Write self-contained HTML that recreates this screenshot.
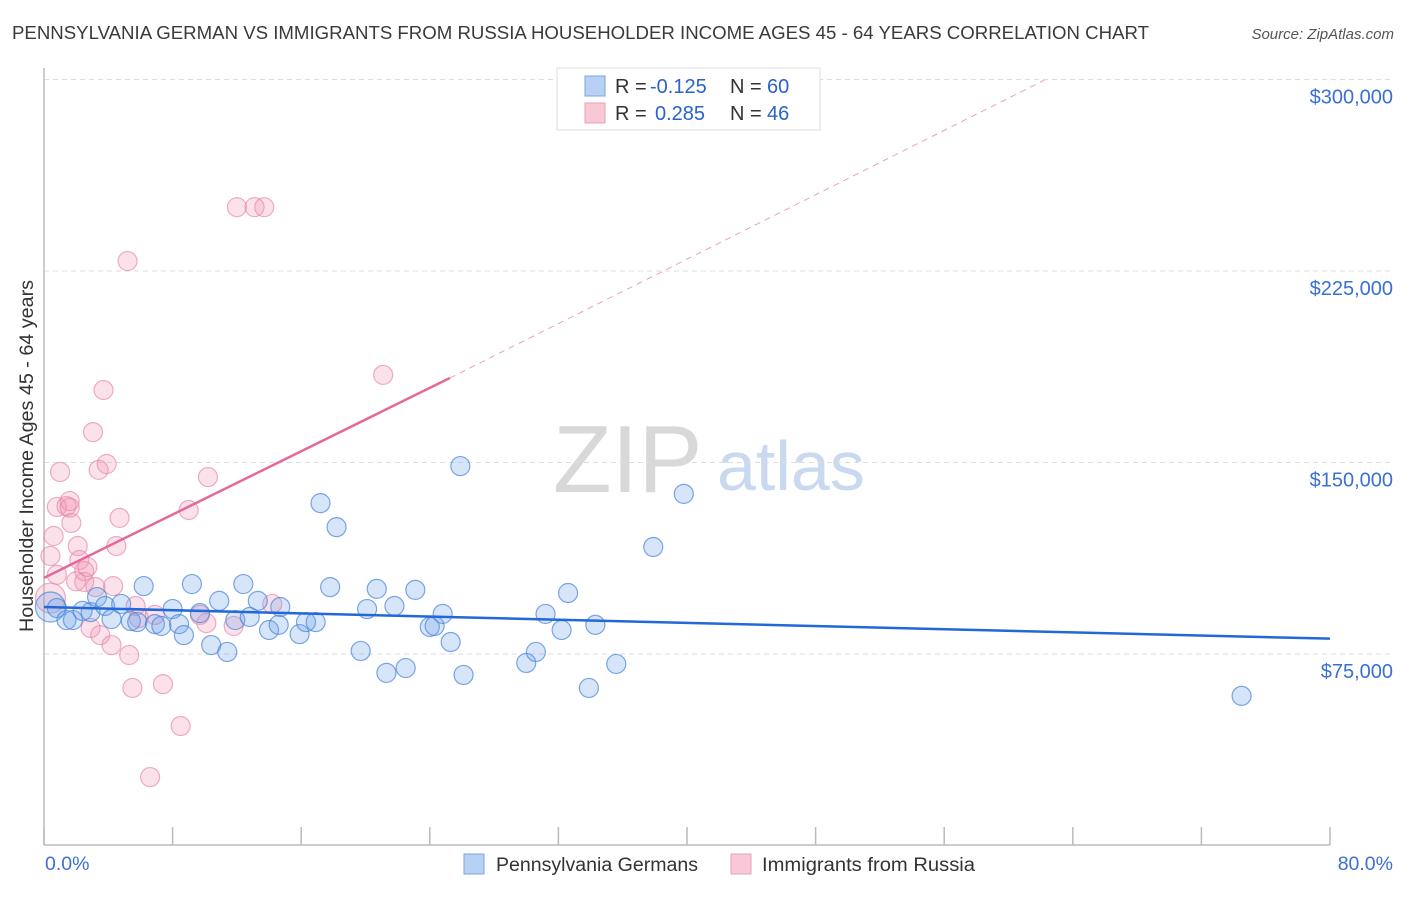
<!DOCTYPE html>
<html><head><meta charset="utf-8"><style>
body{margin:0;background:#fff;font-family:"Liberation Sans",sans-serif;}
svg text{font-family:"Liberation Sans",sans-serif;}
</style></head><body>
<svg id="chart" width="1406" height="892" xmlns="http://www.w3.org/2000/svg">
<text x="12" y="39" font-size="18" fill="#3a3a3a" textLength="1137" lengthAdjust="spacingAndGlyphs">PENNSYLVANIA GERMAN VS IMMIGRANTS FROM RUSSIA HOUSEHOLDER INCOME AGES 45 - 64 YEARS CORRELATION CHART</text>
<text x="1394" y="39" font-size="15" fill="#555" font-style="italic" text-anchor="end">Source: ZipAtlas.com</text>
<g>
<text x="553" y="492" font-size="96" fill="#d8d8d8" font-family="Liberation Serif,serif">ZIP</text>
<text x="717" y="490" font-size="70" fill="#c9d9f0">atlas</text>
</g>
<g id="grid"></g>
<line x1="44" y1="68" x2="44" y2="845" stroke="#bbb" stroke-width="1.5"/>
<line x1="44" y1="845" x2="1330" y2="845" stroke="#bbb" stroke-width="1.5"/>
<g id="xticks"></g>
<g id="ylabels"></g>
<g id="pts"></g>
<g id="trends"></g>
<text transform="translate(33,456) rotate(-90)" font-size="19" fill="#333" text-anchor="middle" textLength="352" lengthAdjust="spacingAndGlyphs">Householder Income Ages 45 - 64 years</text>
<text x="45" y="870" font-size="19.5" fill="#3b6fd4">0.0%</text>
<text x="1393" y="870" font-size="19.5" fill="#3b6fd4" text-anchor="end">80.0%</text>
<g>
<rect x="557" y="68" width="263" height="62" fill="#fff" stroke="#ddd"/>
<rect x="585" y="76" width="20" height="20" fill="#b8d0f4" stroke="#7aa3e0"/>
<rect x="585" y="103" width="20" height="20" fill="#f8c8d6" stroke="#e8a0b8"/>
<text x="615" y="93" font-size="20" fill="#333">R = <tspan x="650" fill="#2a62cc">-0.125</tspan><tspan x="730">N = </tspan><tspan x="767" fill="#2a62cc">60</tspan></text>
<text x="615" y="120" font-size="20" fill="#333">R = <tspan x="655" fill="#2a62cc">0.285</tspan><tspan x="730">N = </tspan><tspan x="767" fill="#2a62cc">46</tspan></text>
</g>
<g>
<rect x="464" y="854" width="20" height="20" fill="#b8d0f4" stroke="#7aa3e0"/>
<text x="496" y="871" font-size="19" fill="#333" textLength="202" lengthAdjust="spacingAndGlyphs">Pennsylvania Germans</text>
<rect x="731" y="854" width="20" height="20" fill="#f8c8d6" stroke="#e8a0b8"/>
<text x="762" y="871" font-size="19" fill="#333" textLength="213" lengthAdjust="spacingAndGlyphs">Immigrants from Russia</text>
</g>
</svg>
<script>
const yTicks=[75,150,225,300];
const yTickLabels=["$75,000","$150,000","$225,000","$300,000"];
const xTicks=[0,8,16,24,32,40,48,56,64,72,80];
const blueX=[0.4,0.8,1.4,1.8,2.4,2.9,3.3,3.8,4.2,4.8,5.4,5.8,6.2,6.9,7.3,8.0,8.4,8.7,9.2,9.7,10.4,10.9,11.4,11.9,12.4,12.8,13.3,14.0,14.6,14.7,15.9,16.3,16.9,17.2,17.8,18.2,19.7,20.1,20.7,21.3,21.8,22.5,23.1,24.0,24.3,24.8,25.3,25.9,26.1,30.0,30.6,31.2,32.2,32.6,33.9,34.3,35.6,37.9,39.8,74.5];
const blueY=[93.4,93,88.3,88.3,91.9,91.4,97.3,93.8,88.7,94.6,87.9,87.5,101.6,86.7,86.0,92.6,86.7,82.4,102.4,91.0,78.5,95.8,75.8,88.3,102.4,89.5,95.8,84.4,86.4,93.4,82.8,87.5,87.5,134.1,101.2,124.7,76.2,92.6,100.5,67.6,93.8,69.5,100.1,85.6,86.0,90.7,79.7,148.6,66.8,71.5,75.8,90.7,84.4,98.9,61.7,86.4,71.1,116.9,137.7,58.6];
const pinkX=[0.4,0.4,0.6,0.8,0.8,1.0,1.4,1.6,1.7,2.1,2.2,2.5,2.5,2.7,2.9,3.2,3.4,3.5,3.7,3.9,3.05,4.2,4.3,4.5,4.7,5.2,5.3,5.5,5.7,5.9,6.6,6.9,7.4,8.5,9.0,9.7,10.1,10.2,11.8,12.0,13.1,13.7,14.2,21.1,1.6,2.0];
const pinkY=[96.9,113.4,121.2,132.6,106.0,146.3,132.9,134.9,126.3,117.3,111.8,103.2,107.5,109.1,85.2,101.2,147.1,82.4,178.4,149.4,161.9,78.5,101.6,117.3,128.3,228.9,74.6,61.7,93.8,89.1,26.8,90.3,63.2,46.8,131.4,90.3,87.1,144.3,86.0,250,250,250,94.6,184.3,132.3,103.5];
const blueTrendX=[0,80];const blueTrendY=[93.4,81.0];
const pinkTrendX=[0,25.25];const pinkTrendY=[104.8,183.1];
const pinkDashX=[25.25,62.25];const pinkDashY=[183.1,299.8];
const NS="http://www.w3.org/2000/svg";
const xs=v=>44+v*16.075;
const ys=v=>845.5-v*191.5/75;
function mk(tag,attrs,parent){const e=document.createElementNS(NS,tag);for(const k in attrs)e.setAttribute(k,attrs[k]);document.getElementById(parent).appendChild(e);return e;}
yTicks.forEach((t,i)=>{
 const l=mk('line',{x1:44,x2:1393,y1:ys(t),y2:ys(t),stroke:'#ddd','stroke-dasharray':'5,4'},'grid');
 
 
 const tx=mk('text',{x:1393,y:ys(t)+24,'font-size':20,fill:'#3b6fd4','text-anchor':'end'},'ylabels');
 tx.textContent=yTickLabels[i];
 
 
});
xTicks.forEach(t=>{
 const l=mk('line',{x1:xs(t),x2:xs(t),y1:827,y2:845,stroke:'#bbb','stroke-width':1.5},'xticks');
 
 
});
function dots(X,Y,fill,stroke,name){
 X.forEach((x,i)=>{
  const r=(i===0)?15:9.5;
  const c=mk('circle',{cx:xs(x),cy:ys(Y[i]),r:r,fill:fill,stroke:stroke,'stroke-width':1.2},'pts');
  
  
 });
}
dots(pinkX,pinkY,'rgba(242,150,180,0.28)','rgba(230,130,165,0.65)','pink-point');
dots(blueX,blueY,'rgba(110,160,235,0.28)','rgba(70,130,220,0.7)','blue-point');
let l=mk('line',{x1:xs(blueTrendX[0]),y1:ys(blueTrendY[0]),x2:xs(blueTrendX[1]),y2:ys(blueTrendY[1]),stroke:'#2268d8','stroke-width':2.5},'trends');


l=mk('line',{x1:xs(pinkTrendX[0]),y1:ys(pinkTrendY[0]),x2:xs(pinkTrendX[1]),y2:ys(pinkTrendY[1]),stroke:'#e4689a','stroke-width':2.5},'trends');


l=mk('line',{x1:xs(pinkDashX[0]),y1:ys(pinkDashY[0]),x2:xs(pinkDashX[1]),y2:ys(pinkDashY[1]),stroke:'#eaa0bc','stroke-width':1,'stroke-dasharray':'6,5'},'trends');


</script>
</body></html>
